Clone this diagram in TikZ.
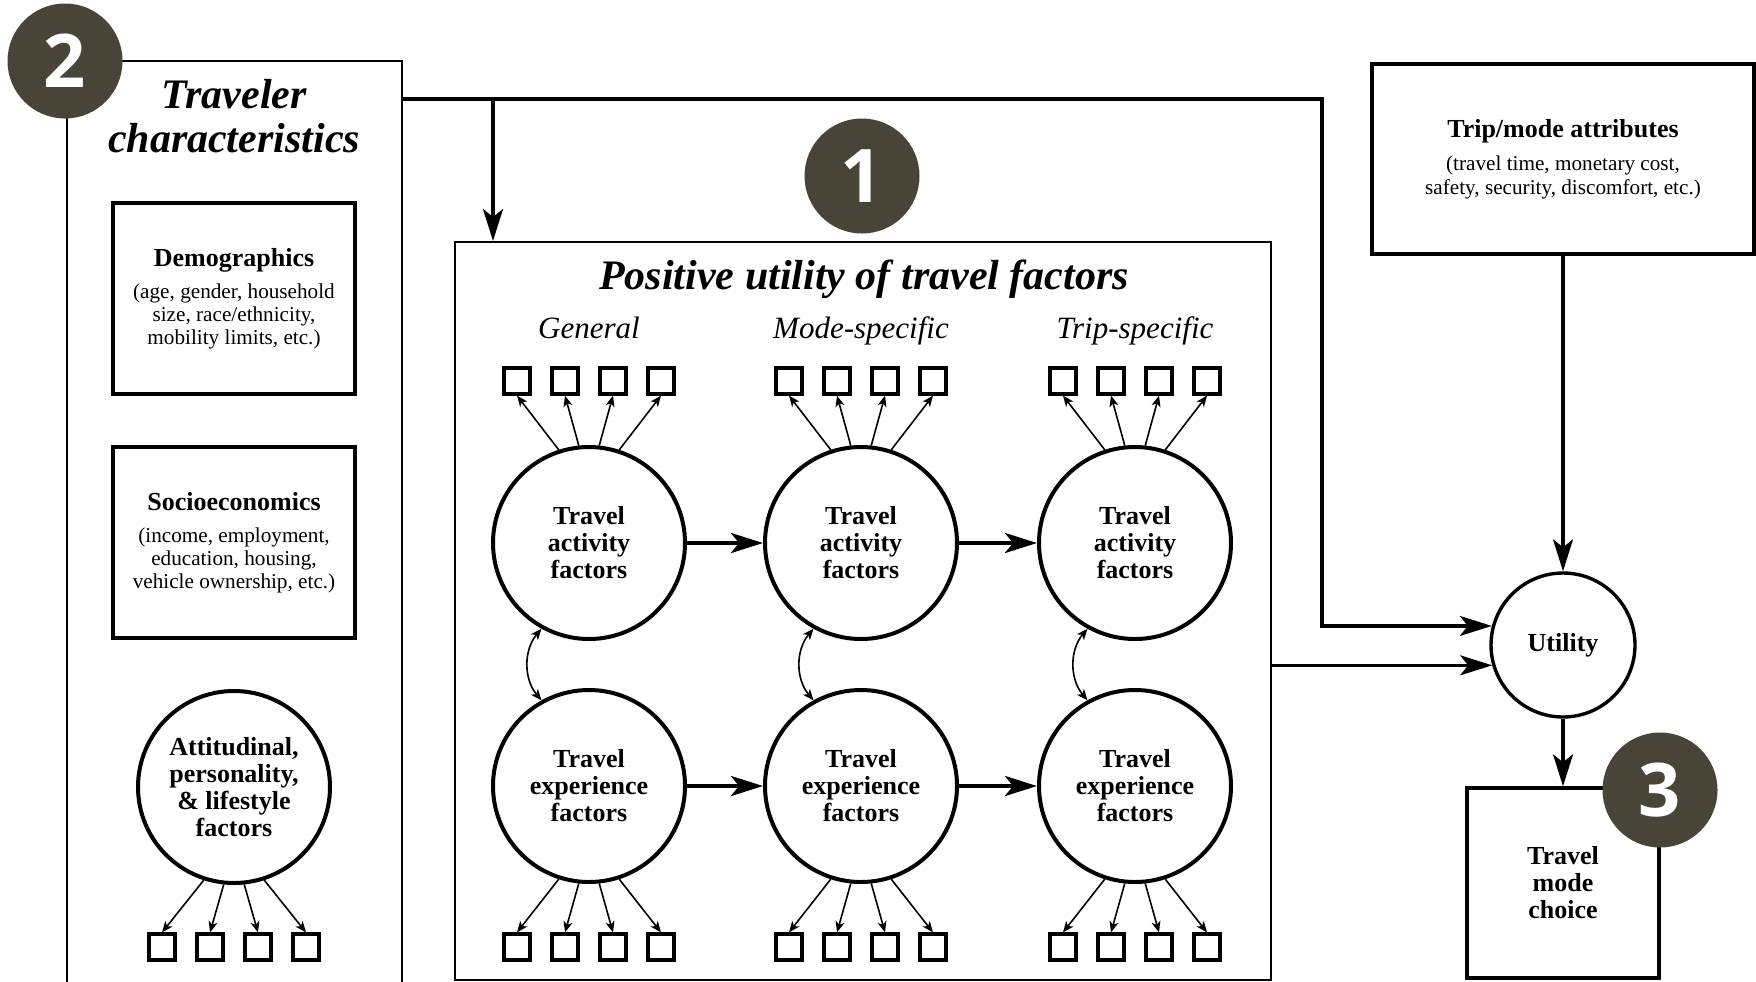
\documentclass[tikz,border=0pt]{standalone}
\usepackage{fontspec}
\setmainfont{Liberation Serif}
\newfontfamily\badgefont{Open Sans}
\usetikzlibrary{arrows.meta,calc}
\definecolor{badgecol}{RGB}{72,69,56}
\begin{document}
\begin{tikzpicture}[x=0.5pt,y=-0.5pt,
 thinbox/.style={draw, line width=1pt, rectangle, inner sep=0pt},
 thickbox/.style={draw, line width=1.7pt, rectangle, inner sep=0pt, align=center},
 factor/.style={draw, circle, line width=2pt, minimum size=96pt, inner sep=0pt, align=center, font=\fontsize{13}{13.5}\selectfont\bfseries},
 ind/.style={draw, rectangle, line width=1.6pt, minimum size=13pt, inner sep=0pt},
 badge/.style={circle, fill=badgecol, minimum size=57.5pt, inner sep=0pt, text=white, font=\badgefont\bfseries\fontsize{37}{37}\selectfont},
 bigarr/.style={line width=1.6pt, line join=miter, -{Stealth[length=16pt,width=10pt,inset=4pt]}},
 hflow/.style={line width=2pt,-{Stealth[length=16pt,width=10pt,inset=4pt]}},
 smallarr/.style={line width=0.8pt,-{Stealth[length=5.5pt,width=4.5pt,inset=1.5pt]}},
 corr/.style={line width=0.8pt,{Stealth[length=5.5pt,width=4.5pt,inset=1.5pt]}-{Stealth[length=5.5pt,width=4.5pt,inset=1.5pt]}},
 bigtitle/.style={font=\fontsize{21}{22}\selectfont\bfseries\itshape, align=center},
 coltitle/.style={font=\fontsize{15.5}{16}\selectfont\itshape, anchor=base},
 boxtext/.style={font=\fontsize{10.6}{11.4}\selectfont},
]
\useasboundingbox (0,0) rectangle (1756,981);
\clip (0,0) rectangle (1756,981);

% Traveler characteristics panel
\node[thinbox, minimum width=167.5pt, minimum height=480pt] (trav) at (234.5,541) {};
\node[bigtitle] (travt) at (234,116) {Traveler\\characteristics};
\node[thickbox, boxtext, minimum width=121pt, minimum height=95.5pt] (demo) at (234,298.5)
  {{\fontsize{13}{13}\selectfont\bfseries Demographics}\\[4.6pt] (age, gender, household\\ size, race/ethnicity,\\ mobility limits, etc.)};
\node[thickbox, boxtext, minimum width=121pt, minimum height=95.5pt] (socio) at (234,542.5)
  {{\fontsize{13}{13}\selectfont\bfseries Socioeconomics}\\[4.6pt] (income, employment,\\ education, housing,\\ vehicle ownership, etc.)};
\node[factor] (att) at (234,787) {Attitudinal,\\personality,\\\& lifestyle\\factors};
\foreach \dx [count=\i] in {-72,-24,24,72}
  \node[ind] (atts\i) at (234+\dx,947) {};
\foreach \i/\ba in {1/252,2/264,3/276,4/288}
  \draw[smallarr] (att.\ba) -- (atts\i.north);

% Positive utility panel
\node[thinbox, minimum width=408pt, minimum height=369pt] (pos) at (863,611) {};
\node[bigtitle] (post) at (864,279) {Positive utility of travel factors};
\foreach \cx/\nm/\lab in {589/g/General, 861/m/Mode-specific, 1135/t/Trip-specific} {
  \node[coltitle] (\nm lab) at (\cx,338) {\lab};
  \node[factor] (\nm a) at (\cx,543) {Travel\\activity\\factors};
  \node[factor] (\nm e) at (\cx,786) {Travel\\experience\\factors};
  \foreach \dx [count=\i] in {-72,-24,24,72} {
    \node[ind] (\nm s\i) at (\cx+\dx,381) {};
    \node[ind] (\nm b\i) at (\cx+\dx,947) {};
  }
  \foreach \i/\ta/\ba in {1/108/252, 2/96/264, 3/84/276, 4/72/288} {
    \draw[smallarr] (\nm a.\ta) -- (\nm s\i.south);
    \draw[smallarr] (\nm e.\ba) -- (\nm b\i.north);
  }
  \draw[corr] (\nm a.241) to[bend right=40] (\nm e.119);
}
\draw[hflow] (ga) -- (ma);
\draw[hflow] (ma) -- (ta);
\draw[hflow] (ge) -- (me);
\draw[hflow] (me) -- (te);

% Right side
\node[thickbox, minimum width=191pt, minimum height=95pt] (trip) at (1563,159)
  {{\fontsize{13}{13}\selectfont\bfseries Trip/mode attributes}\\[4.6pt]
   {\fontsize{10.6}{12}\selectfont (travel time, monetary cost,}\\
   {\fontsize{10.6}{12}\selectfont safety, security, discomfort, etc.)}};
\node[draw, circle, line width=1.7pt, minimum size=72pt, inner sep=0pt, font=\fontsize{13}{13}\selectfont\bfseries] (util) at (1563,645) {Utility};
\node[thickbox, minimum width=96pt, minimum height=95pt, font=\fontsize{13}{13.5}\selectfont\bfseries] (mode) at (1563,883) {Travel\\mode\\choice};

% Connectors
\coordinate (tout) at (402,99);
\coordinate (br) at (493,99);
\coordinate (bend) at (1322,99);
\draw[bigarr] (tout) -- (bend) |- (util.165.5);
\draw[bigarr] (br) -- (br |- pos.north);
\draw[bigarr] (pos.east |- util.196) -- (util.196);
\draw[bigarr] (trip.south) -- (util.north);
\draw[bigarr] (util.south) -- (mode.north);

% Badges
\node[badge] (b2) at (65,61) {2};
\node[badge] (b1) at (862,176) {1};
\node[badge] (b3) at (1660,790) {3};
\end{tikzpicture}
\end{document}
